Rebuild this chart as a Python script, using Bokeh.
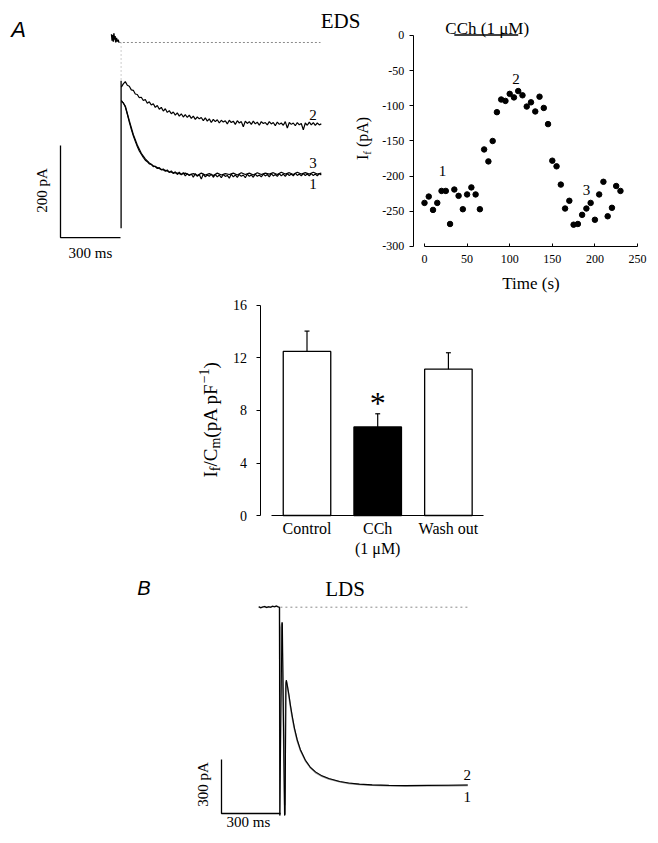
import math
from bokeh.plotting import figure
from bokeh.models import Range1d, LinearAxis, FixedTicker
from bokeh.core.properties import value
from bokeh.embed import file_html
from bokeh.resources import INLINE

SERIF = "Liberation Serif"
SANS = "Liberation Sans"

# ---------------- Panel A (EDS): current traces, time in ms, current in pA ----------------
a_t_start = 304          # first sample of traces (ms)
a_dt = 10                # sampling of traces 1 and 2 (ms)
a_trace2 = [-97, -90, -85, -93, -95, -103, -104, -112, -113, -120, -119, -126, -124, -132, -129,
            -136, -133, -141, -137, -145, -141, -149, -144, -152, -148, -155, -151, -158, -153, -160,
            -155, -162, -157, -163, -158, -165, -160, -167, -162, -166, -163, -170, -164, -171, -166,
            -174, -167, -172, -168, -175, -169, -173, -170, -177, -169, -174, -171, -178, -170, -175,
            -172, -183, -171, -176, -172, -178, -171, -177, -173, -180, -172, -176, -174, -179, -172,
            -177, -174, -181, -173, -178, -175, -180, -172, -186, -174, -178, -175, -181, -174, -179,
            -176, -190, -175, -180, -173, -179, -174, -180, -175, -179, -177]
a_trace1 = [-128, -131, -140, -156, -173, -189, -203, -215, -226, -236, -243, -250, -256, -259, -264,
            -265, -270, -269, -274, -272, -277, -275, -280, -277, -283, -279, -285, -281, -287, -282,
            -288, -283, -290, -285, -289, -286, -293, -285, -291, -287, -297, -286, -292, -288, -291,
            -286, -293, -287, -292, -288, -294, -287, -291, -289, -295, -286, -292, -288, -293, -287,
            -291, -288, -294, -286, -291, -288, -293, -286, -291, -288, -292, -286, -290, -287, -292,
            -285, -290, -287, -291, -285, -290, -286, -291, -285, -289, -286, -290, -284, -289, -286,
            -290, -285, -289, -286, -290, -285, -289, -286, -290, -285, -288]
a_dt3 = 20               # sampling of trace 3 (ms)
a_trace3 = [-126, -138, -170, -200, -223, -241, -253, -262, -268, -272, -276, -278, -281, -283, -284,
            -286, -284, -288, -285, -289, -284, -288, -285, -289, -284, -288, -285, -287, -284, -288,
            -283, -287, -284, -288, -283, -287, -284, -286, -283, -287, -282, -286, -283, -287, -282,
            -286, -283, -286, -282, -286, -284]
a_step_t = [303, 303]            # capacitive transient
a_step_i = [-83, -404]
a_hold_t = [255, 258, 261, 264, 267, 270, 273, 276, 280, 284, 288, 292]
a_hold_i = [18, 4, 16, 2, 20, 6, 14, 0, 10, 2, 6, 0]
a_zero_t = [292, 1300]
a_bar_t = [0, 300]               # 300 ms
a_bar_i = [-424, -224]           # 200 pA
a_lab_text = ["2", "3", "1"]
a_lab_t = [1262, 1262, 1262]
a_lab_i = [-158, -263, -308]

# ---------------- Scatter: If vs time ----------------
scat_t = list(range(0, 235, 5))
scat_v = [-238, -229, -248, -238, -221, -221, -268, -219, -228, -247,
          -226, -216, -226, -247, -162, -179, -150, -109, -91, -93,
          -83, -88, -79, -85, -101, -95, -108, -87, -103, -126,
          -178, -186, -212, -246, -235, -269, -268, -255, -246, -238,
          -262, -226, -208, -257, -245, -214, -221]
cch_period = [35, 110]
scat_xticks = [0, 50, 100, 150, 200, 250]
scat_yticks = [0, -50, -100, -150, -200, -250, -300]
scat_lab_text = ["1", "2", "3"]
scat_lab_t = [21, 107.5, 190]
scat_lab_v = [-193, -62, -219]

# ---------------- Bar chart: If/Cm ----------------
bar_names = ["Control", "CCh\n(1 μM)", "Wash out"]
bar_pos = [1, 2, 3]
bar_means = [12.5, 6.75, 11.15]
bar_sem = [1.55, 1.0, 1.25]
bar_fill = ["white", "black", "white"]
bar_yticks = [0, 4, 8, 12, 16]

# ---------------- Panel B (LDS): traces ----------------
b_hold_t = [189, 199, 209, 219, 229, 239, 249, 259, 269, 279, 289, 294]
b_hold_i = [2, -3, 1, 4, -2, 3, 0, 5, 2, 6, 1, 0]
b_trace2_t = [296, 307, 309, 320, 323, 327, 329, 335, 342, 350, 359, 370, 384, 400, 426, 450, 477,
              510, 545, 600, 646, 700, 765, 850, 934, 1050, 1150, 1250]
b_trace2_i = [-1157, -83, -90, -1157, -1150, -420, -405, -440, -485, -545, -605, -670, -735, -790,
              -850, -888, -915, -937, -952, -968, -977, -983, -987, -990, -991, -990, -989, -988]
b_trace1_t = [295, 296.5, 299, 306, 309, 321, 326, 330, 335, 342, 350, 359, 370, 384, 400, 426, 450,
              477, 510, 545, 600, 646, 700, 765, 850, 934, 1050, 1150, 1250]
b_trace1_i = [0, -1157, -150, -90, -300, -1100, -450, -412, -445, -492, -552, -612, -676, -740, -794,
              -853, -890, -918, -939, -954, -970, -979, -985, -989, -992, -993, -992, -991, -990]
b_zero_t = [299, 1254]
b_bar_t = [0, 300]               # 300 ms
b_bar_i = [-1146, -846]          # 300 pA
b_lab_text = ["2", "1"]
b_lab_t = [1247, 1247]
b_lab_i = [-935, -1055]

# ---------------- figure: one canvas, one set of ranges per panel ----------------
W, H = 656, 841
p = figure(width=W, height=H, output_backend="svg", toolbar_location=None,
           x_axis_location=None, y_axis_location=None,
           x_range=Range1d(0, W), y_range=Range1d(H, 0),
           min_border=0, min_border_left=0, min_border_right=0,
           min_border_top=0, min_border_bottom=0)
p.outline_line_color = None
p.grid.visible = False
p.background_fill_color = "white"
p.border_fill_color = "white"

p.extra_x_ranges = {"A": Range1d(-300, 2980), "S": Range1d(-497.65, 272.30),
                    "Bar": Range1d(-3.3352, 5.9434), "B": Range1d(-1121.83, 2208.12)}
p.extra_y_ranges = {"A": Range1d(-1736.96, 91.30), "S": Range1d(-1145.97, 49.76),
                    "Bar": Range1d(-24.838, 39.238), "B": Range1d(-1301.67, 3370.56)}


def txt(x, y, t, size, rng=None, font=SERIF, align="center", angle=0.0, style="normal"):
    kw = {}
    if rng:
        kw = dict(x_range_name=rng, y_range_name=rng)
    p.text(x=x, y=y, text=t, text_font=value(font), text_font_size=f"{size}px",
           text_align=align, text_baseline="middle", angle=angle, text_color="black",
           text_font_style=style, **kw)


def style_axis(ax, size):
    ax.axis_line_color = "black"
    ax.axis_line_width = 1
    ax.major_tick_line_color = "black"
    ax.minor_tick_out = 0
    ax.minor_tick_in = 0
    ax.major_label_text_font = SERIF
    ax.major_label_text_font_size = f"{size}px"
    ax.major_label_text_color = "black"


WIDTH_EM = {'I': .333, 'f': .333, '/': .278, 'C': .667, 'm': .778, '(': .333, 'p': .5, 'A': .722,
            ' ': .25, 'F': .556, '−': .564, '1': .5, ')': .333}


def vlabel(pieces, x_mid, y_bottom):
    """rotated label built from pieces (text, size, dx) in page pixels"""
    y = y_bottom
    for t, size, dx in pieces:
        if t.strip():
            txt([x_mid + dx], [y], [t], size, align="left", angle=math.pi / 2)
        y -= sum(WIDTH_EM.get(c, .5) for c in t) * size


# ---------------- Panel A ----------------
a_t2 = [a_t_start + a_dt * i for i in range(len(a_trace2))]
a_t1 = [a_t_start + a_dt * i for i in range(len(a_trace1))]
a_t3 = [a_t_start + a_dt3 * i for i in range(len(a_trace3))]
RA = dict(x_range_name="A", y_range_name="A")
p.line(a_zero_t, [0, 0], line_color="#8a8a8a", line_width=1, line_dash="2 2", **RA)
p.line([a_step_t[0], a_step_t[0]], [0, a_step_i[0]], line_color="#9a9a9a", line_width=1, line_dash="1 3", **RA)
p.line(a_hold_t, a_hold_i, line_color="black", line_width=1.4, **RA)
p.line(a_step_t, a_step_i, line_color="black", line_width=1.3, **RA)
p.line(a_t3, a_trace3, line_color="black", line_width=1.2, **RA)
p.line(a_t1, a_trace1, line_color="black", line_width=1.2, **RA)
p.line(a_t2, a_trace2, line_color="black", line_width=1.2, **RA)
p.line([a_bar_t[0], a_bar_t[0], a_bar_t[1]], [a_bar_i[1], a_bar_i[0], a_bar_i[0]],
       line_color="black", line_width=1.3, **RA)
txt(a_lab_t, a_lab_i, a_lab_text, 15, rng="A")
txt([41], [190], ["200 pA"], 15, angle=math.pi / 2)
txt([90], [252], ["300 ms"], 15)
txt([18], [29], ["A"], 22, font=SANS, style="italic")
txt([340], [20], ["EDS"], 21)

# ---------------- Scatter ----------------
RS = dict(x_range_name="S", y_range_name="S")
p.scatter(scat_t, scat_v, size=5.5, fill_color="black", line_color="black", **RS)
p.line(cch_period, [0.7, 0.7], line_color="black", line_width=1.6, **RS)
txt([73.6], [9.9], ["CCh (1 μM)"], 17, rng="S")
txt(scat_lab_t, scat_lab_v, scat_lab_text, 15, rng="S")

sy = LinearAxis(fixed_location=-13.1, bounds=(-300, 0), ticker=FixedTicker(ticks=scat_yticks),
                major_tick_out=4, major_tick_in=0, major_label_standoff=5,
                major_label_overrides={v: str(v) for v in scat_yticks}, **RS)
style_axis(sy, 12)
p.add_layout(sy, "left")
sxa = LinearAxis(fixed_location=-300, bounds=(0, 250), ticker=FixedTicker(ticks=scat_xticks),
                 major_tick_out=0, major_tick_in=3, major_label_standoff=9,
                 axis_label="Time (s)", axis_label_standoff=7, **RS)
style_axis(sxa, 12)
sxa.axis_label_text_font = SERIF
sxa.axis_label_text_font_size = "17px"
sxa.axis_label_text_font_style = "normal"
sxa.axis_label_text_color = "black"
p.add_layout(sxa, "below")
vlabel([("I", 16, 0), ("f", 11, 4), (" ", 16, 0), ("(pA)", 16, 0)], 362, 159.6)

# ---------------- Bar chart ----------------
RB = dict(x_range_name="Bar", y_range_name="Bar")
p.vbar(x=bar_pos, top=bar_means, bottom=0, width=0.672, fill_color=bar_fill, line_color="black",
       line_width=1.3, **RB)
err_top = [m + s for m, s in zip(bar_means, bar_sem)]
p.segment(x0=bar_pos, y0=bar_means, x1=bar_pos, y1=err_top, line_color="black", line_width=1.2, **RB)
p.segment(x0=[x - 0.035 for x in bar_pos], y0=err_top, x1=[x + 0.035 for x in bar_pos], y1=err_top,
          line_color="black", line_width=1.2, **RB)
txt([bar_pos[1]], [err_top[1] + 0.8], ["*"], 32, rng="Bar")

by = LinearAxis(fixed_location=0.349, bounds=(0, 16), ticker=FixedTicker(ticks=bar_yticks),
                major_tick_out=4, major_tick_in=0, major_label_standoff=10, **RB)
style_axis(by, 14)
p.add_layout(by, "left")
bx = LinearAxis(fixed_location=0, bounds=(0.5, 3.5), ticker=FixedTicker(ticks=bar_pos),
                major_tick_out=0, major_tick_in=0, major_label_standoff=4,
                major_label_overrides={k: v for k, v in zip(bar_pos, bar_names)}, **RB)
style_axis(bx, 16)
p.add_layout(bx, "below")
vlabel([("I", 19, 0), ("f", 14, 5), ("/C", 19, 0), ("m", 14, 5), ("(pA pF", 19, 0),
        ("−1", 14, -6), (")", 19, 0)], 209.5, 477)

# ---------------- Panel B ----------------
RBB = dict(x_range_name="B", y_range_name="B")
p.line(b_zero_t, [0, 0], line_color="#8a8a8a", line_width=1, line_dash="2 3", **RBB)
p.line(b_hold_t + b_trace1_t, b_hold_i + b_trace1_i, line_color="#8c8c8c", line_width=1.6, **RBB)
p.line(b_hold_t + b_trace2_t, b_hold_i + b_trace2_i, line_color="black", line_width=1.1, **RBB)
p.line([b_bar_t[0], b_bar_t[0], b_bar_t[1]], [b_bar_i[1], b_bar_i[0], b_bar_i[0]],
       line_color="black", line_width=1.3, **RBB)
txt(b_lab_t, b_lab_i, b_lab_text, 15, rng="B")
txt([202], [784], ["300 pA"], 15, angle=math.pi / 2)
txt([248], [821], ["300 ms"], 15)
txt([143.5], [587], ["B"], 20, font=SANS, style="italic")
txt([344.5], [588], ["LDS"], 21)

open("out.html", "w").write(file_html(p, INLINE))
